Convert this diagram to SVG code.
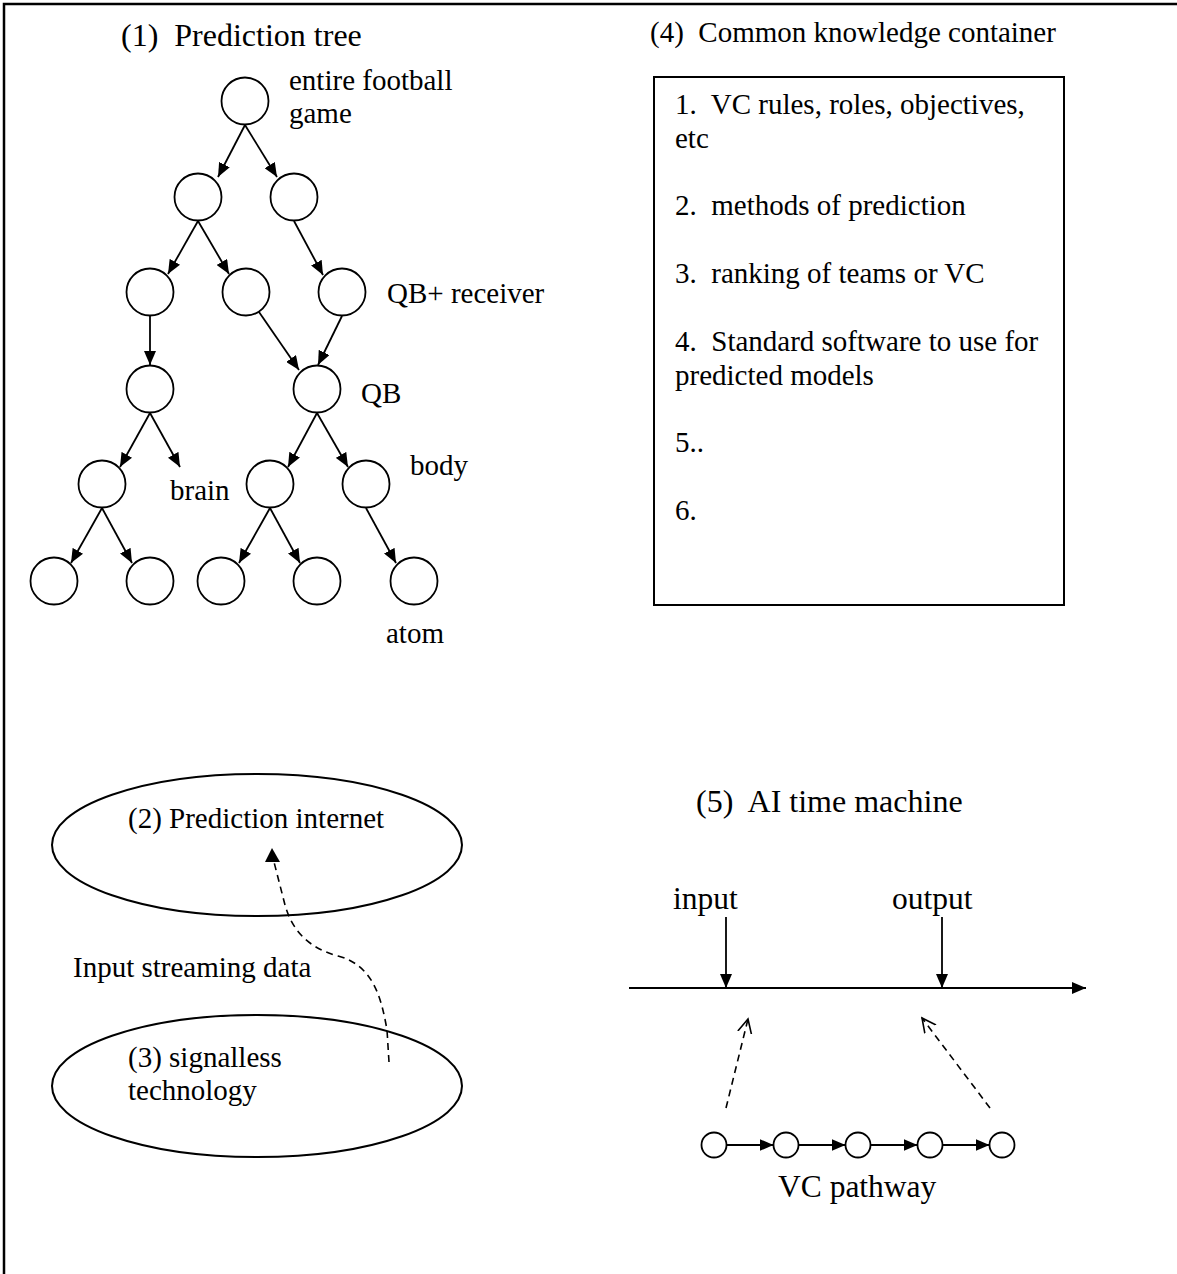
<svg xmlns="http://www.w3.org/2000/svg" width="1177" height="1274" viewBox="0 0 1177 1274">
  <defs>
    <style>
      text { font-family: "Liberation Serif", "Times New Roman", serif; fill: #000; }
      .t29 { font-size: 29px; }
      .t31 { font-size: 31.5px; }
      .t32 { font-size: 32px; }
      .node { fill: #fff; stroke: #000; stroke-width: 1.8; }
      .edge { fill: none; stroke: #000; stroke-width: 1.8; marker-end: url(#head); }
      .dash { fill: none; stroke: #000; stroke-width: 1.6; stroke-dasharray: 7 5; }
      .frame { fill: none; stroke: #000; stroke-width: 2.5; }
      .box { fill: #fff; stroke: #000; stroke-width: 2; }
    </style>
    <marker id="head" markerUnits="userSpaceOnUse" markerWidth="14" markerHeight="12" refX="14" refY="6" orient="auto">
      <path d="M0,0 L14,6 L0,12 Z" fill="#000"/>
    </marker>
    <marker id="open" markerUnits="userSpaceOnUse" markerWidth="16" markerHeight="16" refX="14" refY="8" orient="auto">
      <path d="M0,1 L14,8 L0,15" fill="none" stroke="#000" stroke-width="1.6"/>
    </marker>
  </defs>

  <!-- page frame -->
  <path class="frame" d="M4,1274 L4,4 L1177,4"/>

  <!-- (1) prediction tree -->
  <text class="t32" x="121" y="46" xml:space="preserve">(1)  Prediction tree</text>

  <g id="tree-nodes">
    <g id="n-root"><circle class="node" cx="245" cy="101" r="23.5"/></g>
    <g id="n-2a"><circle class="node" cx="198" cy="197" r="23.5"/></g>
    <g id="n-2b"><circle class="node" cx="294" cy="197" r="23.5"/></g>
    <g id="n-3a"><circle class="node" cx="150" cy="292" r="23.5"/></g>
    <g id="n-3b"><circle class="node" cx="246" cy="292" r="23.5"/></g>
    <g id="n-3c"><circle class="node" cx="342" cy="292" r="23.5"/></g>
    <g id="n-4a"><circle class="node" cx="150" cy="389" r="23.5"/></g>
    <g id="n-qb"><circle class="node" cx="317" cy="389" r="23.5"/></g>
    <g id="n-5a"><circle class="node" cx="102" cy="484" r="23.5"/></g>
    <g id="n-5b"><circle class="node" cx="270" cy="484" r="23.5"/></g>
    <g id="n-body"><circle class="node" cx="366" cy="484" r="23.5"/></g>
    <g id="n-6a"><circle class="node" cx="54" cy="581" r="23.5"/></g>
    <g id="n-6b"><circle class="node" cx="150" cy="581" r="23.5"/></g>
    <g id="n-6c"><circle class="node" cx="221" cy="581" r="23.5"/></g>
    <g id="n-6d"><circle class="node" cx="317" cy="581" r="23.5"/></g>
    <g id="n-atom"><circle class="node" cx="414" cy="581" r="23.5"/></g>
  </g>

  <g id="tree-labels" class="t29">
    <text x="289" y="90">entire football</text>
    <text x="289" y="123">game</text>
    <text x="387" y="303">QB+ receiver</text>
    <text x="361" y="403">QB</text>
    <text x="170" y="500">brain</text>
    <text x="410" y="475">body</text>
    <text x="386" y="643">atom</text>
  </g>

  <g id="tree-edges">
    <line class="edge" x1="245" y1="125" x2="218" y2="177"/>
    <line class="edge" x1="245" y1="125" x2="277" y2="177"/>
    <line class="edge" x1="198" y1="221" x2="168" y2="274"/>
    <line class="edge" x1="198" y1="221" x2="229" y2="274"/>
    <line class="edge" x1="294" y1="221" x2="323" y2="275"/>
    <line class="edge" x1="150" y1="316" x2="150" y2="365"/>
    <line class="edge" x1="259" y1="312" x2="299" y2="370"/>
    <line class="edge" x1="342" y1="316" x2="318" y2="365"/>
    <line class="edge" x1="150" y1="413" x2="120" y2="467"/>
    <line class="edge" x1="150" y1="413" x2="180" y2="467"/>
    <line class="edge" x1="317" y1="413" x2="288" y2="467"/>
    <line class="edge" x1="317" y1="413" x2="348" y2="467"/>
    <line class="edge" x1="102" y1="508" x2="71" y2="563"/>
    <line class="edge" x1="102" y1="508" x2="132" y2="563"/>
    <line class="edge" x1="270" y1="508" x2="239" y2="563"/>
    <line class="edge" x1="270" y1="508" x2="300" y2="563"/>
    <line class="edge" x1="366" y1="508" x2="396" y2="563"/>
  </g>

  <!-- (4) common knowledge container -->
  <text class="t29" x="650" y="42" xml:space="preserve">(4)  Common knowledge container</text>
  <g id="knowledge-box">
    <rect class="box" x="654" y="77" width="410" height="528"/>
    <g class="t29">
      <text x="675" y="114" xml:space="preserve">1.  VC rules, roles, objectives,</text>
      <text x="675" y="148">etc</text>
      <text x="675" y="215" xml:space="preserve">2.  methods of prediction</text>
      <text x="675" y="283" xml:space="preserve">3.  ranking of teams or VC</text>
      <text x="675" y="351" xml:space="preserve">4.  Standard software to use for</text>
      <text x="675" y="385">predicted models</text>
      <text x="675" y="452">5..</text>
      <text x="675" y="520">6.</text>
    </g>
  </g>

  <!-- (2) and (3) -->
  <g id="prediction-internet">
    <ellipse class="box" cx="257" cy="845" rx="205" ry="71"/>
    <text class="t29" x="128" y="828">(2) Prediction internet</text>
  </g>
  <g id="signalless">
    <ellipse class="box" cx="257" cy="1086" rx="205" ry="71"/>
    <text class="t29" x="128" y="1067">(3) signalless</text>
    <text class="t29" x="128" y="1100">technology</text>
  </g>
  <g id="stream-link">
    <path class="dash" d="M389,1062 L387,1030 C381,995 372,965 338,956 C308,948 292,930 285,905 L274,862"/>
    <path d="M272,848 L280,862 L265,862 Z" fill="#000"/>
    <text class="t29" x="73" y="977">Input streaming data</text>
  </g>

  <!-- (5) AI time machine -->
  <text class="t32" x="696" y="812" xml:space="preserve">(5)  AI time machine</text>
  <g id="timeline">
    <text class="t31" x="673" y="909">input</text>
    <text class="t31" x="892" y="909">output</text>
    <line class="edge" x1="629" y1="988" x2="1086" y2="988"/>
    <line class="edge" x1="726" y1="917" x2="726" y2="988"/>
    <line class="edge" x1="942" y1="917" x2="942" y2="988"/>
    <line class="dash" x1="726" y1="1108" x2="748" y2="1019" marker-end="url(#open)"/>
    <line class="dash" x1="990" y1="1108" x2="922" y2="1018" marker-end="url(#open)"/>
  </g>
  <g id="vc-pathway">
    <g id="vc1"><circle class="node" cx="714" cy="1145" r="12.5"/></g>
    <g id="vc2"><circle class="node" cx="786" cy="1145" r="12.5"/></g>
    <g id="vc3"><circle class="node" cx="858" cy="1145" r="12.5"/></g>
    <g id="vc4"><circle class="node" cx="930" cy="1145" r="12.5"/></g>
    <g id="vc5"><circle class="node" cx="1002" cy="1145" r="12.5"/></g>
    <g id="vc-links">
      <line class="edge" x1="726.5" y1="1145" x2="773.5" y2="1145"/>
      <line class="edge" x1="798.5" y1="1145" x2="845.5" y2="1145"/>
      <line class="edge" x1="870.5" y1="1145" x2="917.5" y2="1145"/>
      <line class="edge" x1="942.5" y1="1145" x2="989.5" y2="1145"/>
    </g>
    <text class="t31" x="778" y="1197">VC pathway</text>
  </g>
</svg>
